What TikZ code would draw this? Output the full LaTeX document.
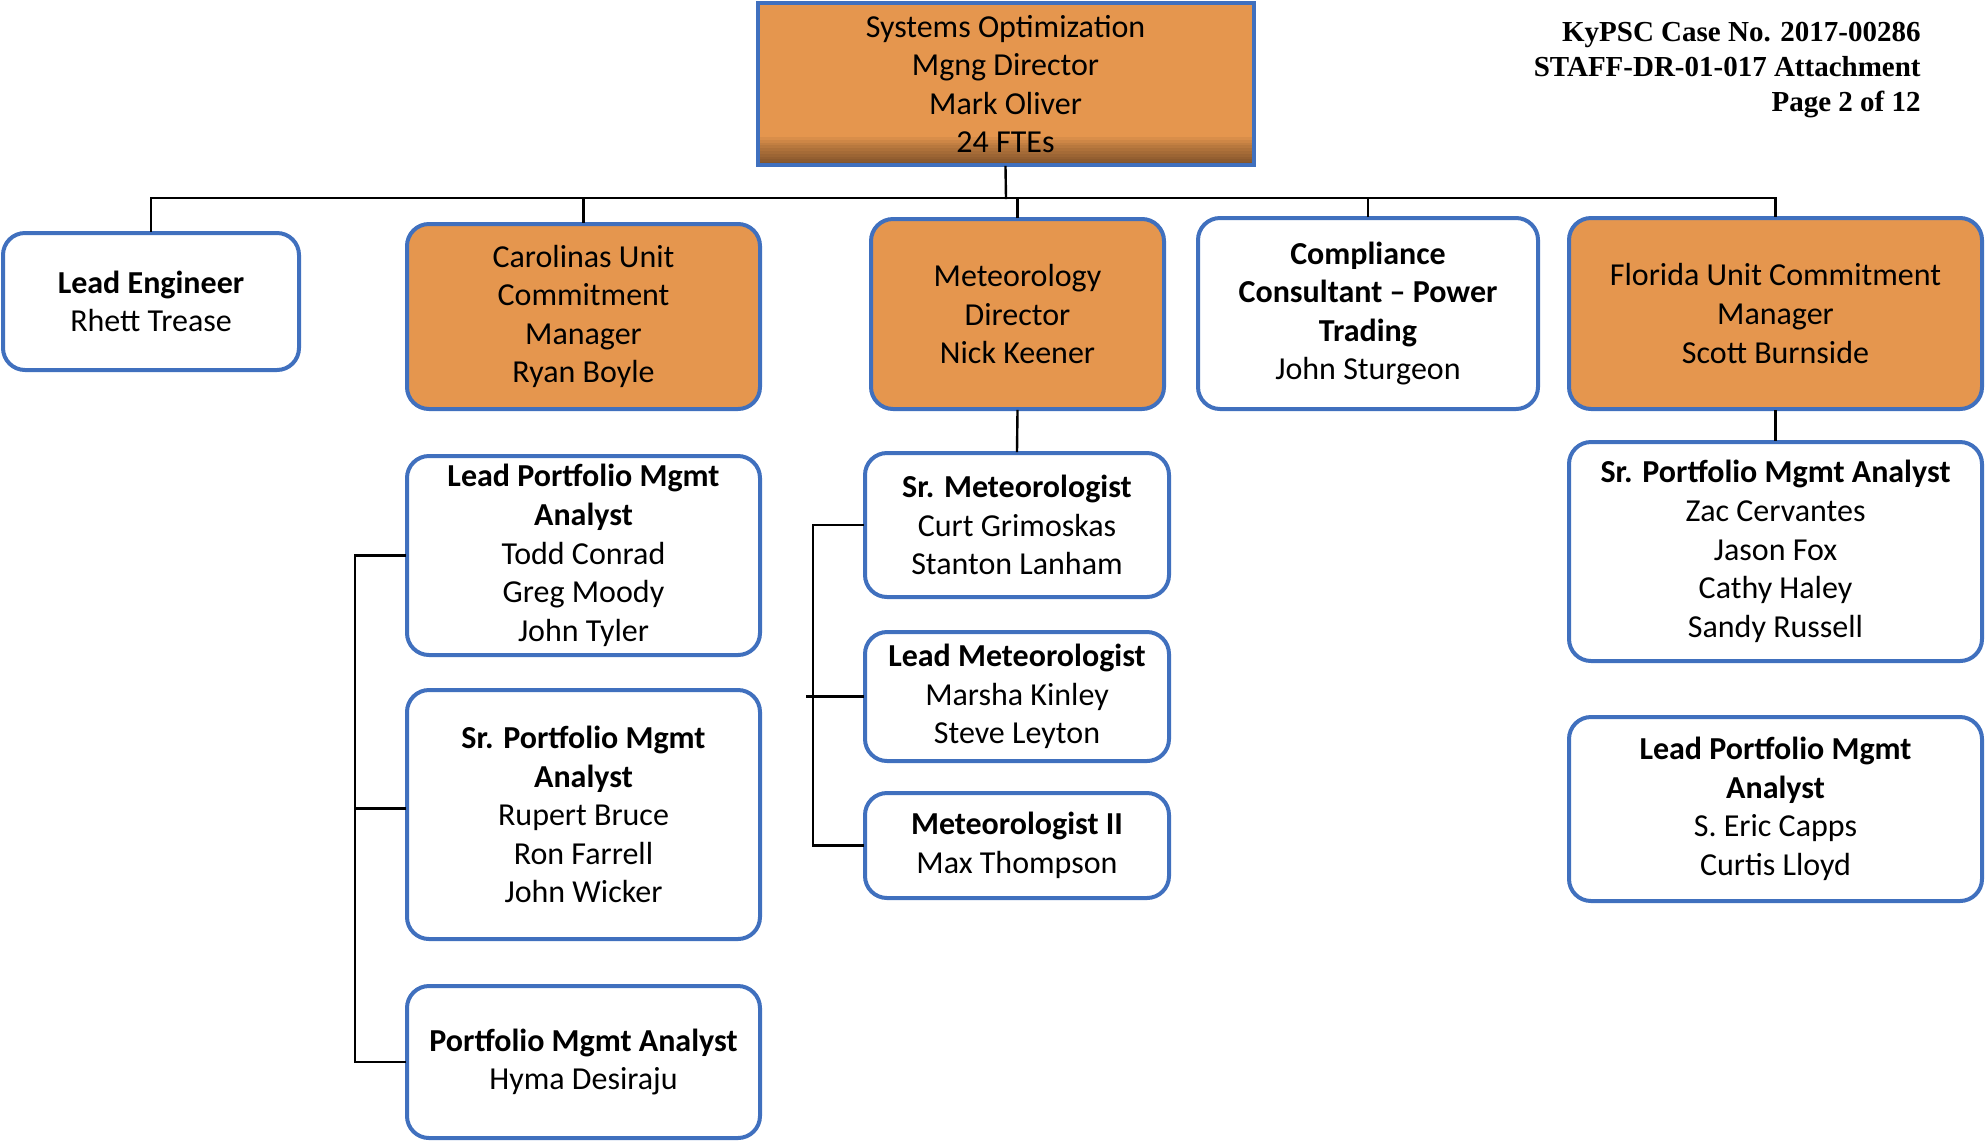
\documentclass[tikz,border=0pt]{standalone}
\usepackage{fontspec}
\setmainfont{Carlito}
\newfontfamily\headfont{Liberation Serif}
\usetikzlibrary{positioning}

\definecolor{boxblue}{RGB}{64,112,190}
\definecolor{boxorange}{RGB}{229,150,78}

\tikzset{
  unit/.style={draw=boxblue,line width=2pt,rounded corners=11pt,fill=white,
    align=center,inner sep=2pt,font=\fontsize{16}{19.3}\selectfont},
  lead/.style={unit,fill=boxorange},
  chief/.style={lead,rounded corners=0pt,
    path picture={\foreach \i in {1,...,10}
      \fill[black,opacity=0.05] ([yshift=\i*1.4pt]path picture bounding box.south west) rectangle (path picture bounding box.south east);}},
  conn/.style={line width=1.2pt,black}
}

\begin{document}
\begin{tikzpicture}[line cap=rect,line join=miter,x=0.5pt,y=-0.5pt]
\useasboundingbox (0,0) rectangle (1986,1142);

% header
\node[anchor=north east,align=right,inner sep=0pt,font=\headfont\bfseries\fontsize{14.5}{17.5}\selectfont] (hdr) at (1921,22)
  {KyPSC Case No. 2017-00286\\STAFF-DR-01-017 Attachment\\Page 2 of 12};

% top level
\node[chief,minimum width=248pt,minimum height=81pt] (top) at (1005.5,84)
  {Systems Optimization\\Mgng Director\\Mark Oliver\\24 FTEs};

% second level
\node[unit,minimum width=148pt,minimum height=68.5pt] (eng) at (151,301.5)
  {\textbf{Lead Engineer}\\Rhett Trease};
\node[lead,minimum width=176.5pt,minimum height=92.5pt] (car) at (583.5,316.5)
  {Carolinas Unit\\Commitment\\Manager\\Ryan Boyle};
\node[lead,minimum width=146.5pt,minimum height=95pt] (met) at (1017.5,314)
  {Meteorology\\Director\\Nick Keener};
\node[unit,minimum width=170pt,minimum height=95.5pt] (comp) at (1368,313.5)
  {\textbf{Compliance}\\\textbf{Consultant -- Power}\\\textbf{Trading}\\John Sturgeon};
\node[lead,minimum width=206.5pt,minimum height=95.5pt] (fla) at (1775.5,313.5)
  {Florida Unit Commitment\\Manager\\Scott Burnside};

% Carolinas staff
\node[unit,minimum width=176.5pt,minimum height=99.5pt] (carA) at (583.5,555.5)
  {\textbf{Lead Portfolio Mgmt}\\\textbf{Analyst}\\Todd Conrad\\Greg Moody\\John Tyler};
\node[unit,minimum width=176.5pt,minimum height=124.5pt] (carB) at (583.5,814.5)
  {\textbf{Sr. Portfolio Mgmt}\\\textbf{Analyst}\\Rupert Bruce\\Ron Farrell\\John Wicker};
\node[unit,minimum width=176.5pt,minimum height=76pt] (carC) at (583.5,1062)
  {\textbf{Portfolio Mgmt Analyst}\\Hyma Desiraju};

% Meteorology staff
\node[unit,minimum width=152pt,minimum height=72pt] (metA) at (1017,525)
  {\textbf{Sr. Meteorologist}\\Curt Grimoskas\\Stanton Lanham};
\node[unit,minimum width=152pt,minimum height=64.5pt] (metB) at (1017,696.5)
  {\textbf{Lead Meteorologist}\\Marsha Kinley\\Steve Leyton};
\node[unit,minimum width=152pt,minimum height=52.5pt] (metC) at (1017,845.5)
  {\textbf{Meteorologist II}\\Max Thompson};

% Florida staff
\node[unit,minimum width=206.5pt,minimum height=109.5pt] (flaA) at (1775.5,551.5)
  {\textbf{Sr. Portfolio Mgmt Analyst}\\Zac Cervantes\\Jason Fox\\Cathy Haley\\Sandy Russell};
\node[unit,minimum width=206.5pt,minimum height=92pt] (flaB) at (1775.5,809)
  {\textbf{Lead Portfolio Mgmt}\\\textbf{Analyst}\\S. Eric Capps\\Curtis Lloyd};

% connectors
\coordinate (bus) at (1006,198);
\coordinate (carbar) at (355,0);
\coordinate (metbar) at (813,0);
\draw[conn] (top.south) -- (bus);
\draw[conn] (bus -| eng.north) -- (bus -| fla.north);
\foreach \n in {eng,car,met,comp,fla}
  \draw[conn] (bus -| \n.north) -- (\n.north);
\draw[conn] (met.south) -- (metA.north);
\draw[conn] (fla.south) -- (flaA.north);
\draw[conn] (carA.west) -- (carA.west -| carbar) -- (carC.west -| carbar) -- (carC.west);
\draw[conn] ([yshift=3pt]carB.west -| carbar) -- ([yshift=3pt]carB.west);
\draw[conn] (metA.west) -- (metA.west -| metbar) -- (metC.west -| metbar) -- (metC.west);
\draw[conn] ([xshift=-3pt]metB.west -| metbar) -- (metB.west);
\end{tikzpicture}
\end{document}
